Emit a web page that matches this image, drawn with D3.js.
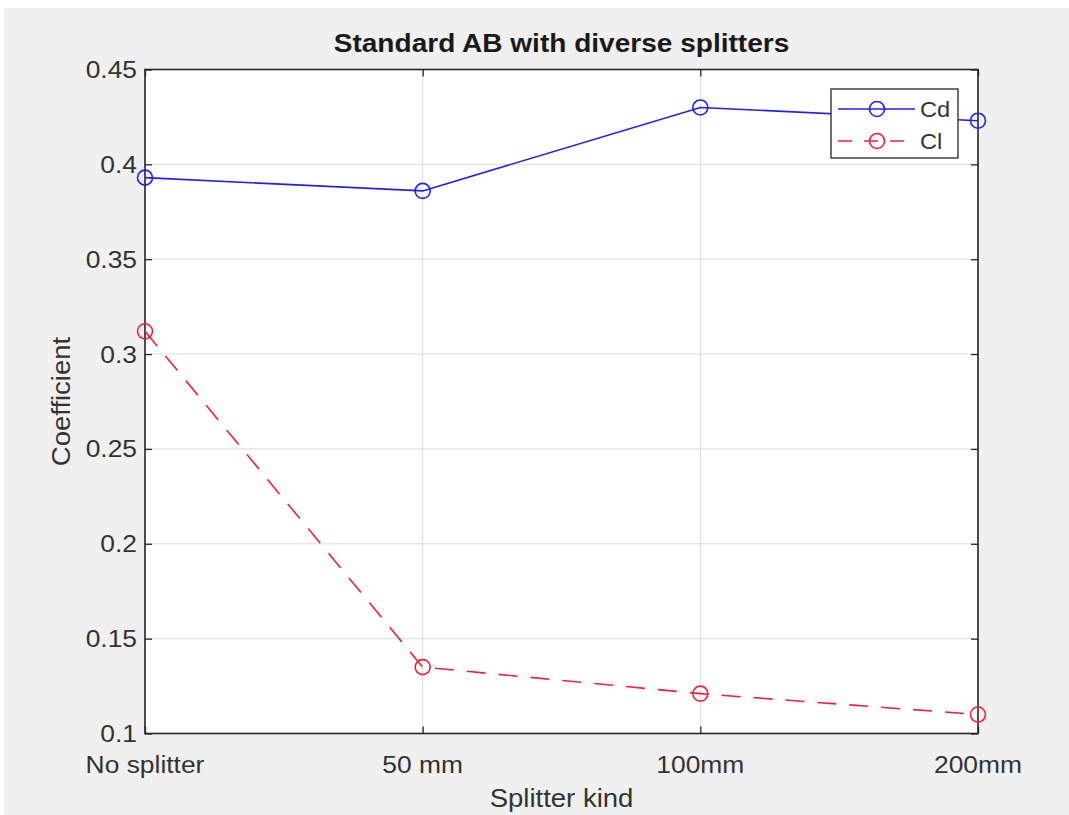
<!DOCTYPE html>
<html>
<head>
<meta charset="utf-8">
<script src="https://cdn.jsdelivr.net/npm/d3@7"></script>
<style>
  html, body { margin: 0; padding: 0; background: #ffffff; }
  svg { display: block; }
  text { font-family: "Liberation Sans", Arial, Helvetica, sans-serif; fill: #333333; }
</style>
</head>
<body>
<script>
// ---- data ----
const categories = ["No splitter", "50 mm", "100mm", "200mm"];
const cdValues = [0.393, 0.386, 0.430, 0.423];
const clValues = [0.312, 0.135, 0.121, 0.110];
const yTicks = [0.1, 0.15, 0.2, 0.25, 0.3, 0.35, 0.4, 0.45];
const yTickLabels = ["0.1", "0.15", "0.2", "0.25", "0.3", "0.35", "0.4", "0.45"];
const seriesNames = ["Cd", "Cl"];
const titleText = "Standard AB with diverse splitters";
const xLabelText = "Splitter kind";
const yLabelText = "Coefficient";

// ---- layout ----
const W = 1069, H = 815;
const plot = { left: 145, right: 978, top: 69.5, bottom: 733.5 };
const stretch = 1.1;

const svg = d3.select("body").append("svg").attr("width", W).attr("height", H);

// figure background
svg.append("rect").attr("x", 0).attr("y", 0).attr("width", W).attr("height", H).attr("fill", "#ffffff");
svg.append("rect").attr("x", 4).attr("y", 8).attr("width", W - 4).attr("height", H - 8).attr("fill", "#f0f0f0");

const x = d3.scalePoint().domain(categories).range([plot.left, plot.right]);
const y = d3.scaleLinear().domain([0.1, 0.45]).range([plot.bottom, plot.top]);

// plot area
svg.append("rect")
  .attr("x", plot.left).attr("y", plot.top)
  .attr("width", plot.right - plot.left).attr("height", plot.bottom - plot.top)
  .attr("fill", "#ffffff");

// grid
const grid = svg.append("g").attr("stroke", "#dcdcdc").attr("stroke-width", 1);
grid.selectAll("line.gx").data(categories).join("line")
  .attr("x1", d => x(d)).attr("x2", d => x(d))
  .attr("y1", plot.top).attr("y2", plot.bottom);
grid.selectAll("line.gy").data(yTicks).join("line")
  .attr("x1", plot.left).attr("x2", plot.right)
  .attr("y1", d => y(d)).attr("y2", d => y(d));

// axes via d3 axis (ticks inward, no labels) on all sides
const tickLen = 7;
function styleAxis(g) {
  g.select(".domain").remove();
  g.selectAll(".tick line").attr("stroke", "#262626").attr("stroke-width", 1.3);
  g.selectAll(".tick text").remove();
}
svg.append("g").attr("transform", `translate(0,${plot.bottom})`)
  .call(d3.axisBottom(x).tickSize(-tickLen)).call(styleAxis);
svg.append("g").attr("transform", `translate(0,${plot.top})`)
  .call(d3.axisTop(x).tickSize(-tickLen)).call(styleAxis);
svg.append("g").attr("transform", `translate(${plot.left},0)`)
  .call(d3.axisLeft(y).tickValues(yTicks).tickSize(-tickLen)).call(styleAxis);
svg.append("g").attr("transform", `translate(${plot.right},0)`)
  .call(d3.axisRight(y).tickValues(yTicks).tickSize(-tickLen)).call(styleAxis);

// box
svg.append("rect")
  .attr("x", plot.left).attr("y", plot.top)
  .attr("width", plot.right - plot.left).attr("height", plot.bottom - plot.top)
  .attr("fill", "none").attr("stroke", "#262626").attr("stroke-width", 1.6);

// helper for horizontally stretched text
function stext(parent, tx, ty, str, size, anchor, weight, fill) {
  return parent.append("text")
    .attr("transform", `translate(${tx},${ty}) scale(${stretch},1)`)
    .attr("text-anchor", anchor)
    .attr("font-size", size)
    .attr("font-weight", weight || "normal")
    .style("fill", fill || null)
    .text(str);
}

// tick labels
yTicks.forEach((v, i) => {
  stext(svg, plot.left - 8, y(v) + 8.5, yTickLabels[i], 24, "end");
});
categories.forEach(c => {
  stext(svg, x(c), plot.bottom + 39, c, 24, "middle");
});

// title and labels
stext(svg, (plot.left + plot.right) / 2, 52, titleText, 25.5, "middle", "bold", "#1a1a1a");
stext(svg, (plot.left + plot.right) / 2, 807, xLabelText, 25, "middle");
svg.append("text")
  .attr("transform", `translate(70,${(plot.top + plot.bottom) / 2}) rotate(-90) scale(1.1,1)`)
  .attr("text-anchor", "middle").attr("font-size", 25)
  .text(yLabelText);

// series
const colors = ["#2020f0", "#f02035"];
const dashes = [null, "19,13"];
const allSeries = [cdValues, clValues];
const line = d3.line().x((d, i) => x(categories[i])).y(d => y(d));
allSeries.forEach((vals, si) => {
  svg.append("path").datum(vals)
    .attr("d", line)
    .attr("fill", "none")
    .attr("stroke", colors[si]).attr("stroke-width", 1.6)
    .attr("stroke-dasharray", dashes[si]);
  svg.selectAll(null).data(vals).join("circle")
    .attr("cx", (d, i) => x(categories[i])).attr("cy", d => y(d))
    .attr("r", 7.5).attr("fill", "none")
    .attr("stroke", colors[si]).attr("stroke-width", 1.6);
});

// legend
const lg = svg.append("g");
lg.append("rect").attr("x", 831).attr("y", 89).attr("width", 127).attr("height", 69)
  .attr("fill", "#ffffff").attr("stroke", "#262626").attr("stroke-width", 1.3);
const legendRows = [109, 141];
seriesNames.forEach((name, si) => {
  const ly = legendRows[si];
  lg.append("line").attr("x1", 838).attr("x2", 915).attr("y1", ly).attr("y2", ly)
    .attr("stroke", colors[si]).attr("stroke-width", 1.6)
    .attr("stroke-dasharray", si === 1 ? "14,12" : null);
  lg.append("circle").attr("cx", 877).attr("cy", ly).attr("r", 7.5)
    .attr("fill", "none").attr("stroke", colors[si]).attr("stroke-width", 1.6);
  stext(lg, 920, ly + 8, name, 21.5, "start");
});
</script>
</body>
</html>
